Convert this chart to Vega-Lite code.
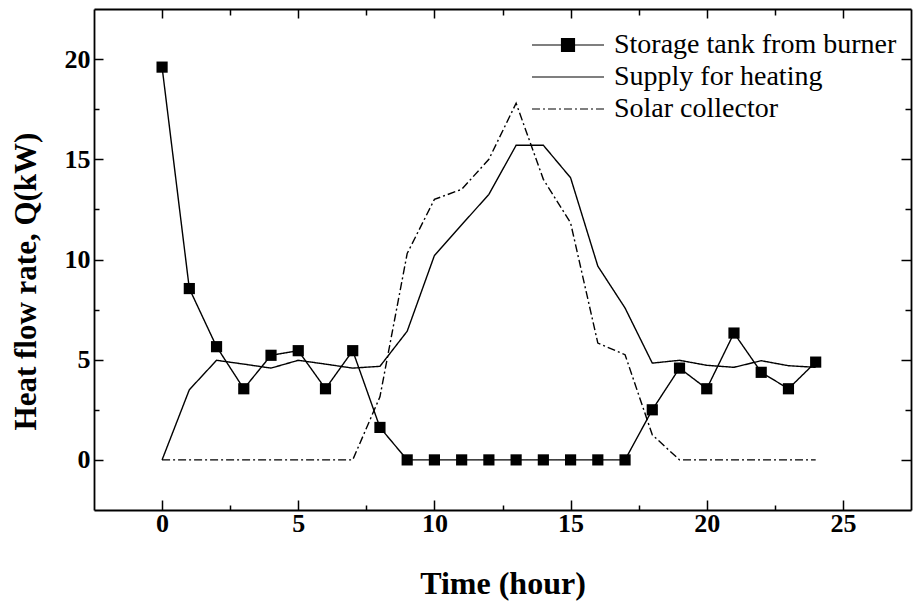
{
  "$schema": "https://vega.github.io/schema/vega-lite/v6.json",
  "width": 817,
  "height": 501,
  "autosize": {"type": "none"},
  "padding": {"left": 94, "top": 9, "right": 3, "bottom": 92},
  "background": "white",
  "config": {
    "view": {"stroke": null},
    "font": "Liberation Serif",
    "legend": {"labelFont": "Liberation Serif", "labelFontWeight": "normal", "labelFontSize": 28},
    "axis": {
      "domainColor": "black",
      "domainWidth": 1.8,
      "tickColor": "black",
      "tickWidth": 1.5,
      "grid": false,
      "labelFont": "Liberation Serif",
      "labelFontWeight": "bold",
      "labelFontSize": 26,
      "labelColor": "black",
      "labelOverlap": false,
      "titleFont": "Liberation Serif",
      "titleFontWeight": "bold",
      "titleColor": "black"
    }
  },
  "data": {
    "values": [
      {"t": 0, "series": "Storage tank from burner", "q": 19.6},
      {"t": 1, "series": "Storage tank from burner", "q": 8.55},
      {"t": 2, "series": "Storage tank from burner", "q": 5.65},
      {"t": 3, "series": "Storage tank from burner", "q": 3.55},
      {"t": 4, "series": "Storage tank from burner", "q": 5.22},
      {"t": 5, "series": "Storage tank from burner", "q": 5.45},
      {"t": 6, "series": "Storage tank from burner", "q": 3.55},
      {"t": 7, "series": "Storage tank from burner", "q": 5.45},
      {"t": 8, "series": "Storage tank from burner", "q": 1.62},
      {"t": 9, "series": "Storage tank from burner", "q": 0},
      {"t": 10, "series": "Storage tank from burner", "q": 0},
      {"t": 11, "series": "Storage tank from burner", "q": 0},
      {"t": 12, "series": "Storage tank from burner", "q": 0},
      {"t": 13, "series": "Storage tank from burner", "q": 0},
      {"t": 14, "series": "Storage tank from burner", "q": 0},
      {"t": 15, "series": "Storage tank from burner", "q": 0},
      {"t": 16, "series": "Storage tank from burner", "q": 0},
      {"t": 17, "series": "Storage tank from burner", "q": 0},
      {"t": 18, "series": "Storage tank from burner", "q": 2.5},
      {"t": 19, "series": "Storage tank from burner", "q": 4.58},
      {"t": 20, "series": "Storage tank from burner", "q": 3.55},
      {"t": 21, "series": "Storage tank from burner", "q": 6.33},
      {"t": 22, "series": "Storage tank from burner", "q": 4.37},
      {"t": 23, "series": "Storage tank from burner", "q": 3.55},
      {"t": 24, "series": "Storage tank from burner", "q": 4.88},

      {"t": 0, "series": "Supply for heating", "q": 0},
      {"t": 1, "series": "Supply for heating", "q": 3.5},
      {"t": 2, "series": "Supply for heating", "q": 4.97},
      {"t": 3, "series": "Supply for heating", "q": 4.78},
      {"t": 4, "series": "Supply for heating", "q": 4.58},
      {"t": 5, "series": "Supply for heating", "q": 4.97},
      {"t": 6, "series": "Supply for heating", "q": 4.78},
      {"t": 7, "series": "Supply for heating", "q": 4.58},
      {"t": 8, "series": "Supply for heating", "q": 4.67},
      {"t": 9, "series": "Supply for heating", "q": 6.42},
      {"t": 10, "series": "Supply for heating", "q": 10.2},
      {"t": 11, "series": "Supply for heating", "q": 11.73},
      {"t": 12, "series": "Supply for heating", "q": 13.25},
      {"t": 13, "series": "Supply for heating", "q": 15.7},
      {"t": 14, "series": "Supply for heating", "q": 15.7},
      {"t": 15, "series": "Supply for heating", "q": 14.08},
      {"t": 16, "series": "Supply for heating", "q": 9.67},
      {"t": 17, "series": "Supply for heating", "q": 7.58},
      {"t": 18, "series": "Supply for heating", "q": 4.83},
      {"t": 19, "series": "Supply for heating", "q": 4.97},
      {"t": 20, "series": "Supply for heating", "q": 4.72},
      {"t": 21, "series": "Supply for heating", "q": 4.62},
      {"t": 22, "series": "Supply for heating", "q": 4.95},
      {"t": 23, "series": "Supply for heating", "q": 4.7},
      {"t": 24, "series": "Supply for heating", "q": 4.62},

      {"t": 0, "series": "Solar collector", "q": 0},
      {"t": 1, "series": "Solar collector", "q": 0},
      {"t": 2, "series": "Solar collector", "q": 0},
      {"t": 3, "series": "Solar collector", "q": 0},
      {"t": 4, "series": "Solar collector", "q": 0},
      {"t": 5, "series": "Solar collector", "q": 0},
      {"t": 6, "series": "Solar collector", "q": 0},
      {"t": 7, "series": "Solar collector", "q": 0},
      {"t": 8, "series": "Solar collector", "q": 3.15},
      {"t": 9, "series": "Solar collector", "q": 10.3},
      {"t": 10, "series": "Solar collector", "q": 13.0},
      {"t": 11, "series": "Solar collector", "q": 13.5},
      {"t": 12, "series": "Solar collector", "q": 15.0},
      {"t": 13, "series": "Solar collector", "q": 17.8},
      {"t": 14, "series": "Solar collector", "q": 14.0},
      {"t": 15, "series": "Solar collector", "q": 11.83},
      {"t": 16, "series": "Solar collector", "q": 5.83},
      {"t": 17, "series": "Solar collector", "q": 5.25},
      {"t": 18, "series": "Solar collector", "q": 1.25},
      {"t": 19, "series": "Solar collector", "q": 0},
      {"t": 20, "series": "Solar collector", "q": 0},
      {"t": 21, "series": "Solar collector", "q": 0},
      {"t": 22, "series": "Solar collector", "q": 0},
      {"t": 23, "series": "Solar collector", "q": 0},
      {"t": 24, "series": "Solar collector", "q": 0}
    ]
  },
  "layer": [
    {
      "mark": {"type": "line", "color": "black", "strokeWidth": 1.4},
      "encoding": {
        "x": {
          "field": "t",
          "type": "quantitative",
          "scale": {"domain": [-2.5, 27.5], "nice": false, "zero": false},
          "axis": {
            "orient": "bottom",
            "title": "Time (hour)",
            "titleFontSize": 32,
            "titleLetterSpacing": 1,
            "titleBaseline": "alphabetic",
            "titleY": 83,
            "values": [0, 2.5, 5, 7.5, 10, 12.5, 15, 17.5, 20, 22.5, 25],
            "labelExpr": "datum.value % 5 === 0 ? datum.label : ''",
            "labelBaseline": "alphabetic",
            "labelPadding": 31,
            "tickSize": {"condition": {"test": "datum.value % 5 === 0", "value": -10}, "value": -5}
          }
        },
        "y": {
          "field": "q",
          "type": "quantitative",
          "scale": {"domain": [-2.5, 22.5], "nice": false, "zero": false},
          "axis": {
            "orient": "left",
            "title": "Heat flow rate, Q(kW)",
            "titleFontSize": 31,
            "titleX": -68,
            "titleY": 272,
            "titleAngle": -90,
            "titleAlign": "center",
            "titleBaseline": "middle",
            "values": [0, 2.5, 5, 7.5, 10, 12.5, 15, 17.5, 20],
            "labelExpr": "datum.value % 5 === 0 ? datum.label : ''",
            "labelPadding": 13,
            "tickSize": {"condition": {"test": "datum.value % 5 === 0", "value": -9}, "value": -5}
          }
        },
        "strokeDash": {
          "field": "series",
          "type": "nominal",
          "scale": {
            "domain": ["Storage tank from burner", "Supply for heating", "Solar collector"],
            "range": [[1, 0], [1, 0], [8, 3, 2, 3]]
          }
        }
      }
    },
    {
      "transform": [{"filter": "datum.series === 'Storage tank from burner'"}],
      "mark": {"type": "point", "shape": "square", "filled": true, "color": "black", "size": 125, "opacity": 1},
      "encoding": {
        "x": {
          "field": "t",
          "type": "quantitative",
          "axis": {
            "orient": "top",
            "title": null,
            "labels": false,
            "values": [0, 2.5, 5, 7.5, 10, 12.5, 15, 17.5, 20, 22.5, 25],
            "tickSize": {"condition": {"test": "datum.value % 5 === 0", "value": -9}, "value": -6}
          }
        },
        "y": {
          "field": "q",
          "type": "quantitative",
          "axis": {
            "orient": "right",
            "title": null,
            "labels": false,
            "values": [0, 2.5, 5, 7.5, 10, 12.5, 15, 17.5, 20],
            "tickSize": {"condition": {"test": "datum.value % 5 === 0", "value": -10}, "value": -6}
          }
        }
      }
    },
    {
      "mark": {"type": "point", "filled": true, "color": "black", "opacity": 0, "size": 4},
      "encoding": {
        "x": {"field": "t", "type": "quantitative", "axis": null},
        "y": {"field": "q", "type": "quantitative", "axis": null},
        "strokeDash": {"field": "series", "type": "nominal"},
        "shape": {
          "field": "series",
          "type": "nominal",
          "scale": {
            "domain": ["Storage tank from burner", "Supply for heating", "Solar collector"],
            "range": ["M-1,0H1M-0.18,-0.18H0.18V0.18H-0.18Z", "M-1,0H1", "M-1,0H1"]
          },
          "legend": {
            "orient": "none",
            "legendX": 437,
            "legendY": 20,
            "title": null,
            "padding": 0,
            "clipHeight": 32,
            "rowPadding": 0,
            "labelOffset": 9,
            "labelFont": "Liberation Serif",
            "labelFontSize": 28,
            "labelColor": "black",
            "labelLimit": 400,
            "symbolSize": 5184,
            "symbolStrokeWidth": 1.2,
            "symbolStrokeColor": "black",
            "symbolFillColor": "black",
            "symbolOpacity": 1,
            "encode": {
              "labels": {"update": {"font": {"value": "Liberation Serif"}}},
              "symbols": {
                "update": {
                  "opacity": {"value": 1},
                  "fill": {"value": "black"},
                  "stroke": {"value": "black"},
                  "strokeWidth": {"value": 1.2},
                  "size": {"value": 5184}
                }
              }
            }
          }
        }
      }
    }
  ],
  "resolve": {"axis": {"x": "independent", "y": "independent"}}
}
